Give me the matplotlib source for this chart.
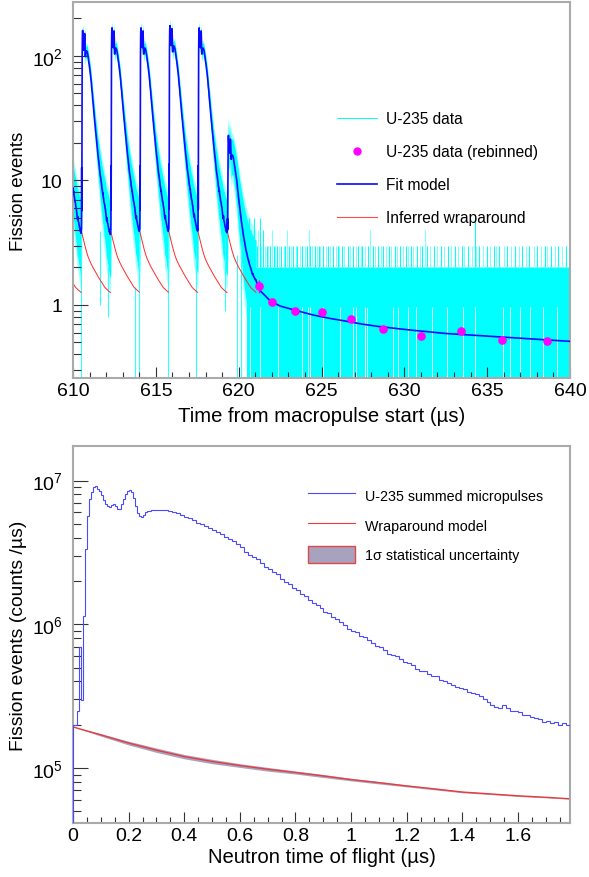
import numpy as np
import matplotlib
matplotlib.use('Agg')
import matplotlib.pyplot as plt
from matplotlib.lines import Line2D
from matplotlib.patches import Patch

plt.rcParams['font.family'] = ['Liberation Sans', 'DejaVu Sans']
plt.rcParams['mathtext.fontset'] = 'custom'
plt.rcParams['mathtext.rm'] = 'Liberation Sans'
plt.rcParams['mathtext.it'] = 'Liberation Sans:italic'
plt.rcParams['mathtext.bf'] = 'Liberation Sans:bold'

# ------------------------------------------------------------------
# Bottom panel data: summed micropulse histogram (units of 1e6 counts/us)
# ------------------------------------------------------------------
fine_width = 0.00715
coarse_width = 0.0143
shape_fine = [0.20, 0.20, 0.25, 0.69, 0.295, 1.14, 3.36, 5.7, 7.5, 8.3,
              9.0, 9.1, 8.8, 8.4, 7.9, 7.3, 6.9, 6.6, 6.5, 6.75,
              6.85, 6.7, 6.35, 6.3, 6.9, 7.4, 8.0, 8.5, 8.6, 8.35,
              7.6, 6.6, 5.9, 5.65, 5.6, 5.8, 6.0, 6.1, 6.15, 6.2]
shape_coarse = [6.20, 6.22, 6.25, 6.22, 6.15, 6.05, 5.95, 5.80, 5.62, 5.50,
                5.30, 5.10, 4.95, 4.85, 4.70, 4.50, 4.40, 4.22, 4.05, 3.90,
                3.78, 3.62, 3.45, 3.20, 3.05, 2.95, 2.85, 2.65, 2.50, 2.42,
                2.30, 2.22, 2.08, 1.98, 1.92, 1.80, 1.72, 1.62, 1.58, 1.48,
                1.40, 1.36, 1.30, 1.22, 1.19, 1.12, 1.08, 1.03, 0.985, 0.93,
                0.90, 0.88, 0.83, 0.81, 0.775, 0.74, 0.71, 0.69, 0.66, 0.625,
                0.61, 0.60, 0.575, 0.55, 0.535, 0.52, 0.49, 0.475, 0.47, 0.45,
                0.435, 0.44, 0.41, 0.405, 0.39, 0.38, 0.365, 0.36, 0.355, 0.34,
                0.33, 0.325, 0.315, 0.30, 0.29, 0.275, 0.265, 0.26, 0.275, 0.26,
                0.25, 0.248, 0.245, 0.235, 0.232, 0.225, 0.222, 0.218, 0.21, 0.212,
                0.205, 0.21, 0.20, 0.205, 0.198]

# Wraparound model (units of 1e5 counts/us) and its relative 1-sigma band
wrap_times = [0.0, 0.1, 0.2, 0.3, 0.4, 0.5, 0.6, 0.7, 0.8, 0.9, 1.0,
              1.1, 1.2, 1.3, 1.4, 1.5, 1.6, 1.7, 1.788]
wrap_vals = [1.93, 1.70, 1.49, 1.33, 1.20, 1.11, 1.04, 0.98, 0.93, 0.88, 0.83,
             0.79, 0.75, 0.715, 0.68, 0.66, 0.64, 0.625, 0.61]
wrap_rel_err = [0.0, 0.02, 0.03, 0.035, 0.035, 0.035, 0.03, 0.03, 0.025, 0.025,
                0.02, 0.02, 0.015, 0.015, 0.012, 0.01, 0.01, 0.008, 0.005]

# ------------------------------------------------------------------
# Top panel data
# ------------------------------------------------------------------
pulse_starts = [608.74, 610.50, 612.27, 614.02, 615.77, 617.53, 619.30]
pulse_peaks = [165, 160, 168, 168, 175, 168, 23]
wrap_top_start = 3.95          # inferred wraparound right at a micropulse start
tail_times = [621.3, 621.9, 622.5, 623.5, 624.5, 625.5, 626.5, 627.5,
              628.5, 630.3, 632.5, 635.2, 637.5, 640.0]
tail_vals = [1.30, 1.08, 0.98, 0.90, 0.83, 0.78, 0.74, 0.70,
             0.67, 0.63, 0.59, 0.56, 0.535, 0.51]

reb_t = [621.2, 622.0, 623.4, 625.0, 626.8, 628.7, 631.0, 633.4, 635.9, 638.6]
reb_v = [1.42, 1.06, 0.90, 0.87, 0.77, 0.64, 0.56, 0.615, 0.525, 0.515]
reb_err = [0.18, 0.05, 0.04, 0.035, 0.035, 0.03, 0.03, 0.03, 0.025, 0.025]

# spread of the fine-binned data around the fit, vs. fit level
spread_levels = [1, 2, 4, 8, 16, 32, 64, 128, 256]
spread_hi = [2.3, 2.0, 1.8, 1.55, 1.35, 1.22, 1.15, 1.10, 1.08]
spread_lo = [0.3, 0.35, 0.45, 0.58, 0.70, 0.80, 0.86, 0.90, 0.92]
spread_hi_out = [2.8, 2.4, 2.1, 1.8, 1.5, 1.32, 1.22, 1.15, 1.12]
spread_lo_out = [0.2, 0.25, 0.35, 0.45, 0.60, 0.72, 0.80, 0.85, 0.88]

# isolated data spikes in the micropulse region (0.2 = zero-count bin)
spike_t = [610.48, 611.63, 612.13, 613.74, 614.00, 615.73, 617.44, 619.20, 619.92, 620.15]
spike_lo = [0.2, 1.0, 0.8, 0.2, 0.2, 0.2, 0.2, 0.9, 0.2, 0.2]
spike_hi = [13.0, 3.9, 2.0, 1.4, 4.0, 4.0, 3.0, 3.5, 2.5, 3.0]

# fine-binned counts after the macropulse (max count per display column)
tail_start, tail_end = 620.5, 640.0
tail_max = ("43534235323425324232332324233232323223324232323223"
            "32232322323243232232323322322323232232232332232322"
            "23232232232322332232232422323223223232232232322232"
            "32232232223232232322232232322423223222322322232232"
            "22322322232232223232223222322532232223222322322232"
            "32232222322322232223222322322232232222322322232223"
            "2322232223223222322232223")
tail_gap_t = [620.68, 621.29, 622.39, 623.8, 624.2, 624.3, 625.1, 626.1, 626.92,
              627.1, 627.6, 627.72, 629.3, 629.63, 630.2, 630.7, 631.7, 632.55,
              633.55, 634.26, 635.97, 636.37, 636.98, 637.58, 638.38, 639.19]

# ------------------------------------------------------------------
fig = plt.figure(figsize=(5.89, 8.78), dpi=100)
ax1 = fig.add_axes([73 / 589, 1 - 379 / 878, 497 / 589, 376 / 878])
ax2 = fig.add_axes([73 / 589, 1 - 824 / 878, 497 / 589, 377 / 878])

# ---------------- bottom panel ----------------
edges = np.concatenate([np.arange(len(shape_fine) + 1) * fine_width,
                        len(shape_fine) * fine_width + np.arange(1, len(shape_coarse) + 1) * coarse_width])
shape = np.array(shape_fine + shape_coarse) * 1e6
centers = 0.5 * (edges[:-1] + edges[1:])
wt = np.array(wrap_times)
wv = np.array(wrap_vals) * 1e5
we = np.array(wrap_rel_err)

ax2.fill_between(wt, wv * (1 - we), wv * (1 + we), color='#a7a3bf', lw=0, zorder=1)
ax2.plot(wt, wv, color='#e83c3c', lw=1.0, zorder=2)
ax2.stairs(shape, edges, color='#4a4aff', lw=0.8, zorder=3)

ax2.set_yscale('log')
ax2.set_xlim(0, 1.7875)
ax2.set_ylim(4.14e4, 1.74e7)
ax2.set_xticks(np.arange(0, 1.61, 0.2))
ax2.set_xticklabels(['0', '0.2', '0.4', '0.6', '0.8', '1', '1.2', '1.4', '1.6'])
ax2.set_xticks(np.arange(0, 1.79, 0.05), minor=True)
ax2.set_yticks([1e5, 1e6, 1e7])
ax2.set_yticklabels(['$10^{5}$', '$10^{6}$', '$10^{7}$'])
ax2.set_yticks([m * 10 ** e for e in (4, 5, 6) for m in range(2, 10)
                if 4.14e4 < m * 10 ** e < 1.74e7], minor=True)
ax2.yaxis.set_minor_formatter(plt.NullFormatter())
ax2.set_xlabel('Neutron time of flight (\u00b5s)', fontsize=14.6)
ax2.set_ylabel('Fission events (counts /\u00b5s)', fontsize=13.9)
ax2.xaxis.set_label_coords(0.5, -0.064)
ax2.yaxis.set_label_coords(-0.093, 0.5)

h2 = [Line2D([], [], color='#4a4aff', lw=0.8),
      Line2D([], [], color='#e83c3c', lw=0.8),
      Patch(facecolor='#a7a3bf', edgecolor='#e04848', lw=1.0)]
ax2.legend(h2, ['U-235 summed micropulses', 'Wraparound model', '1\u03c3 statistical uncertainty'],
           loc='upper left', bbox_to_anchor=(0.473, 0.892), frameon=False, fontsize=10.3,
           borderpad=0, borderaxespad=0, handlelength=3.3, handleheight=1.4,
           handletextpad=0.7, labelspacing=0.93)

# ---------------- top panel ----------------
Wc = np.interp(centers, wt, wv)
r = wrap_top_start / wv[0]
imax = int(np.argmax(shape))
blue_t, blue_v, red_segments = [], [], []
for k, (P, pk) in enumerate(zip(pulse_starts, pulse_peaks)):
    end = pulse_starts[k + 1] if k + 1 < len(pulse_starts) else P + 1.76
    amp = (pk - r * Wc[imax]) / (shape[imax] - Wc[imax])
    m = centers < (end - P)
    t = P + centers[m]
    fit = amp * (shape[m] - Wc[m]) + r * Wc[m]
    red = r * Wc[m]
    keep = t >= 610.0
    blue_t.append(t[keep]); blue_v.append(fit[keep])
    red_segments.append((t[keep], red[keep]))

pulse_t = np.concatenate(blue_t)
pulse_v = np.concatenate(blue_v)

# data band around the fit in the micropulse region
lf = np.log(pulse_v)
ll = np.log(spread_levels)
hi_o = pulse_v * np.interp(lf, ll, spread_hi_out)
lo_o = np.maximum(pulse_v * np.interp(lf, ll, spread_lo_out), 0.2)
hi_i = pulse_v * np.interp(lf, ll, spread_hi)
lo_i = np.maximum(pulse_v * np.interp(lf, ll, spread_lo), 0.2)
ax1.fill_between(pulse_t, lo_o, hi_o, color='#a8ffff', lw=0, zorder=1)
ax1.fill_between(pulse_t, lo_i, hi_i, color='#00ffff', lw=0, zorder=1.1)
ax1.vlines(spike_t, spike_lo, spike_hi, colors='#33ffff', lw=0.8, zorder=1.2)

# fine-binned tail
n = len(tail_max)
cw = (tail_end - tail_start) / n
xc = tail_start + (np.arange(n) + 0.5) * cw
mx = np.array([int(c) for c in tail_max], dtype=float)
ax1.vlines(xc, 0.2, np.minimum(mx, 2), colors='#00ffff', lw=0.8, zorder=1)
up = mx > 2
cols = ['#00ffff' if i % 2 == 0 else '#80ffff' for i in range(int(up.sum()))]
ax1.vlines(xc[up], 2, mx[up], colors=cols, lw=0.75, zorder=1)
ax1.vlines(tail_gap_t, 0.2, 0.97, colors='white', lw=0.6, zorder=1.3)

for t, v in red_segments:
    ax1.plot(t, v, color='#ff2a2a', lw=0.7, zorder=2)

full_t = np.concatenate([pulse_t, tail_times])
full_v = np.concatenate([pulse_v, tail_vals])
ax1.plot(full_t, full_v, color='#0a0aff', lw=1.2, zorder=3)

ax1.errorbar(reb_t, reb_v, yerr=reb_err, fmt='o', color='#ff00ff', ms=5.2,
             elinewidth=1.0, capsize=0, zorder=4)

ax1.set_yscale('log')
ax1.set_xlim(610, 640)
ax1.set_ylim(0.259, 271)
ax1.set_xticks(np.arange(610, 641, 5))
ax1.set_xticks(np.arange(610, 641, 1), minor=True)
ax1.set_yticks([1, 10, 100])
ax1.set_yticklabels(['1', '10', '$10^{2}$'])
ax1.set_yticks([m * 10 ** e for e in (-1, 0, 1, 2) for m in range(2, 10)
                if 0.259 < m * 10 ** e < 271], minor=True)
ax1.yaxis.set_minor_formatter(plt.NullFormatter())
ax1.set_xlabel('Time from macropulse start (\u00b5s)', fontsize=14.6)
ax1.set_ylabel('Fission events', fontsize=13.5)
ax1.xaxis.set_label_coords(0.5, -0.075)
ax1.yaxis.set_label_coords(-0.093, 0.5)

h1 = [Line2D([], [], color='#00ffff', lw=0.7),
      Line2D([], [], ls='none', marker='o', color='#ff00ff', ms=5),
      Line2D([], [], color='#0a0aff', lw=1.2),
      Line2D([], [], color='#ff4a4a', lw=0.8)]
ax1.legend(h1, ['U-235 data', 'U-235 data (rebinned)', 'Fit model', 'Inferred wraparound'],
           loc='upper left', bbox_to_anchor=(0.5306, 0.709), frameon=False, fontsize=11.2,
           borderpad=0, borderaxespad=0, handlelength=2.56, handletextpad=0.62,
           labelspacing=1.15)

for ax in (ax1, ax2):
    for s in ax.spines.values():
        s.set_color('#aaaaaa')
        s.set_linewidth(1.5)
    ax.tick_params(which='both', direction='in', top=False, right=False,
                   color='#333333', width=0.8, labelsize=14)
    ax.tick_params(axis='x', which='major', length=8, pad=3)
    ax.tick_params(axis='x', which='minor', length=4.3)
    ax.tick_params(axis='y', which='major', length=10.8, pad=7.5)
    ax.tick_params(axis='y', which='minor', length=5.8)

fig.savefig('out.png', dpi=100)
